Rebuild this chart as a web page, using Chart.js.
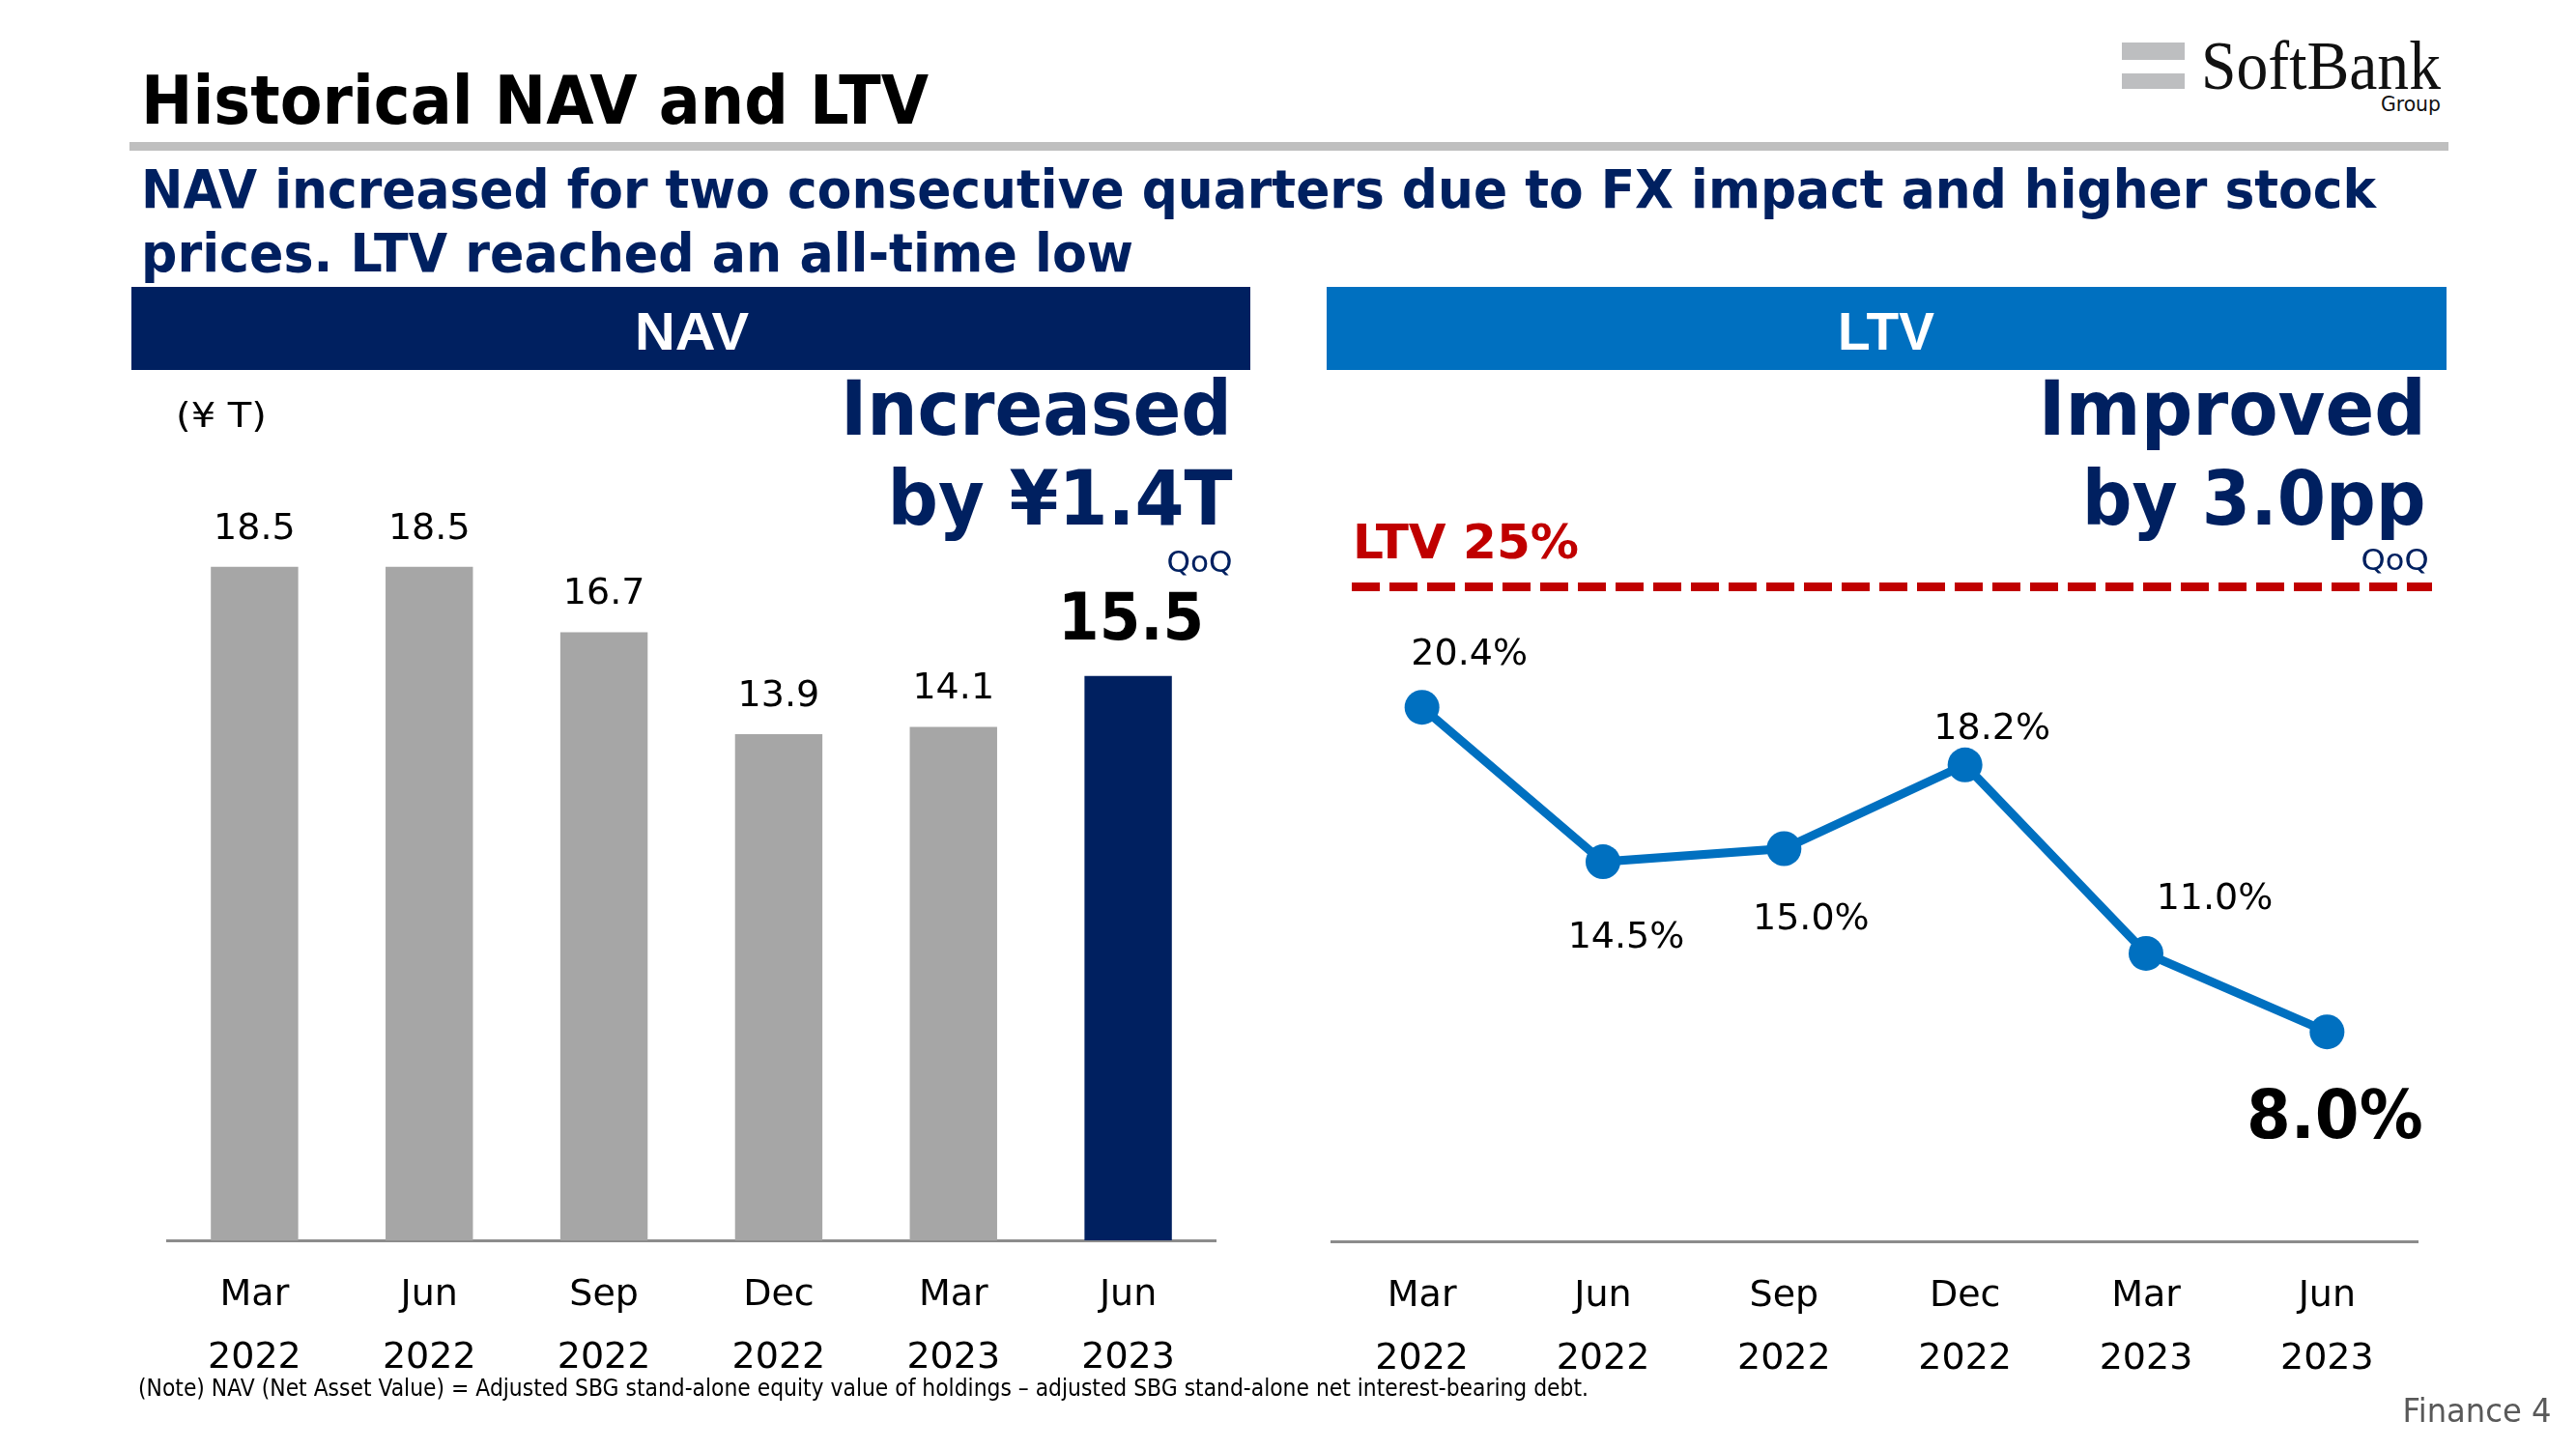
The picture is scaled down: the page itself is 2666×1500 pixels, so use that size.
<!DOCTYPE html>
<html>
<head>
<meta charset="utf-8">
<script src="https://cdn.jsdelivr.net/npm/chart.js@4.4.1/dist/chart.umd.min.js"></script>
<style>
  html, body { margin: 0; padding: 0; background: #fff; }
  body { width: 2666px; height: 1500px; position: relative; overflow: hidden; }
  .box { position: absolute; }
  .txt { position: absolute; white-space: nowrap; line-height: 1; left: 0; top: 0; z-index: 5; }
  canvas { position: absolute; }
</style>
</head>
<body>
<div class="box" style="left:2196px;top:44px;width:65px;height:18px;background:#BDBEC0"></div>
<div class="box" style="left:2196px;top:76px;width:65px;height:16px;background:#BDBEC0"></div>
<div class="box" style="left:134px;top:147px;width:2400px;height:9px;background:#BFBFBF"></div>
<div class="box" style="left:136px;top:297px;width:1158px;height:86px;background:#002060"></div>
<div class="box" style="left:1373px;top:297px;width:1159px;height:86px;background:#0070C0"></div>

<canvas id="nav" width="1158" height="1117" style="left:136px;top:383px;width:1158px;height:1117px"></canvas>
<canvas id="ltv" width="1159" height="1117" style="left:1373px;top:383px;width:1159px;height:1117px"></canvas>

<script>
// ---------------- DATA ----------------
const monthLabels = ['Mar', 'Jun', 'Sep', 'Dec', 'Mar', 'Jun'];
const yearLabels  = ['2022', '2022', '2022', '2022', '2023', '2023'];
const navValues   = [18.5, 18.5, 16.7, 13.9, 14.1, 15.5];   // ¥T
const ltvValues   = [20.4, 14.5, 15.0, 18.2, 11.0, 8.0];    // %
const ltvLimit    = 25;                                      // % (LTV 25% line)

// ---------------- STYLE ----------------
const FONT = '"DejaVu Sans", Verdana, sans-serif';
const NAVY = '#002060';
const BLUE = '#0070C0';
const RED  = '#C00000';
const GRAY_BAR = '#A6A6A6';
const AXIS = '#8C8C8C';
const lastIdx = navValues.length - 1;
const navColors = navValues.map((v, i) => i === lastIdx ? NAVY : GRAY_BAR);
// label placement for LTV values (offset of label centre from the point, px)
const ltvLabelOffsets = [[49, -58], [24, 75], [28, 70], [28, -41], [71, -60], [8, 84]];

const categories = monthLabels.map((m, i) => [m, yearLabels[i]]);

Chart.defaults.font.family = FONT;

function xAxis(height) {
  return {
    offset: true,
    grid: { display: false, drawTicks: false },
    border: { display: true, color: AXIS, width: 3 },
    ticks: { color: '#000', padding: 25, font: { family: FONT, size: 38, lineHeight: 1.71 }, maxRotation: 0, autoSkip: false },
    afterFit: (s) => { s.height = height; }
  };
}

const navLabelPlugin = {
  id: 'navLabels',
  afterDatasetsDraw(chart) {
    const ctx = chart.ctx;
    const meta = chart.getDatasetMeta(0);
    meta.data.forEach((bar, i) => {
      const v = chart.data.datasets[0].data[i];
      const hi = i === lastIdx;
      ctx.save();
      ctx.font = hi ? 'bold 68px ' + FONT : '38px ' + FONT;
      ctx.fillStyle = '#000';
      ctx.textAlign = 'center';
      ctx.textBaseline = 'alphabetic';
      ctx.translate(bar.x + (hi ? 3 : 0), bar.y - (hi ? 38 : 29));
      if (hi) ctx.scale(0.9, 1);
      ctx.fillText(v.toFixed(1), 0, 0);
      ctx.restore();
    });
  }
};

const ltvPlugin = {
  id: 'ltvExtras',
  beforeDatasetsDraw(chart) {
    const ctx = chart.ctx, a = chart.chartArea;
    const y = chart.scales.y.getPixelForValue(ltvLimit);
    ctx.save();
    ctx.strokeStyle = RED;
    ctx.lineWidth = 9;
    ctx.lineCap = 'butt';
    ctx.setLineDash([29, 10]);
    ctx.beginPath();
    ctx.moveTo(a.left + 21, y);
    ctx.lineTo(a.right + 15, y);
    ctx.stroke();
    ctx.restore();
  },
  afterDatasetsDraw(chart) {
    const ctx = chart.ctx;
    const meta = chart.getDatasetMeta(0);
    meta.data.forEach((pt, i) => {
      const v = chart.data.datasets[0].data[i];
      const hi = i === lastIdx;
      const size = hi ? 70 : 38;
      const off = ltvLabelOffsets[i];
      ctx.save();
      ctx.font = (hi ? 'bold ' : '') + size + 'px ' + FONT;
      ctx.fillStyle = '#000';
      ctx.textAlign = 'center';
      ctx.textBaseline = 'alphabetic';
      ctx.translate(pt.x + off[0], pt.y + off[1] + size * 0.729 / 2);
      if (hi) ctx.scale(0.94, 1);
      ctx.fillText(v.toFixed(1) + '%', 0, 0);
      ctx.restore();
    });
  }
};

new Chart(document.getElementById('nav'), {
  type: 'bar',
  data: {
    labels: categories,
    datasets: [{ data: navValues, backgroundColor: navColors, borderWidth: 0, barPercentage: 0.5, categoryPercentage: 1.0 }]
  },
  options: {
    responsive: false, animation: false, devicePixelRatio: 1,
    layout: { autoPadding: false, padding: { left: 37, right: 36, top: 34, bottom: 0 } },
    plugins: { legend: { display: false }, tooltip: { enabled: false } },
    scales: {
      x: xAxis(216),
      y: { display: false, min: 0, max: 23 }
    }
  },
  plugins: [navLabelPlugin]
});

new Chart(document.getElementById('ltv'), {
  type: 'line',
  data: {
    labels: categories,
    datasets: [{
      data: ltvValues, borderColor: BLUE, borderWidth: 9, tension: 0,
      pointRadius: 18, pointBackgroundColor: BLUE, pointBorderWidth: 0, pointHoverRadius: 18, fill: false
    }]
  },
  options: {
    responsive: false, animation: false, devicePixelRatio: 1,
    layout: { autoPadding: false, padding: { left: 5, right: 30, top: 89, bottom: 0 } },
    plugins: { legend: { display: false }, tooltip: { enabled: false } },
    scales: {
      x: xAxis(215),
      y: { display: false, min: 0, max: 30 }
    }
  },
  plugins: [ltvPlugin]
});

// ---------------- TEXT (HTML) ----------------
const TEXTS = [
  { t: 'Historical NAV and LTV', f: 'bold 70px ' + FONT, c: '#000', x: 146, y: 128, a: 'left', w: 815 },
  { t: 'NAV increased for two consecutive quarters due to FX impact and higher stock', f: 'bold 55px ' + FONT, c: NAVY, x: 146, y: 215, a: 'left', w: 2313 },
  { t: 'prices. LTV reached an all-time low', f: 'bold 55px ' + FONT, c: NAVY, x: 146, y: 281, a: 'left', w: 1027 },
  { t: 'SoftBank', f: '71px "Liberation Serif", serif', c: '#111', x: 2278, y: 92, a: 'left', w: 248 },
  { t: 'Group', f: '21px ' + FONT, c: '#111', x: 2526, y: 115, a: 'right', w: 62 },
  { t: 'NAV', f: 'bold 55px "Liberation Sans", Arial, sans-serif', c: '#fff', x: 716, y: 362, a: 'center', w: 118 },
  { t: 'LTV', f: 'bold 55px "Liberation Sans", Arial, sans-serif', c: '#fff', x: 1952, y: 362, a: 'center', w: 100 },
  { t: '(¥ T)', f: '36px ' + FONT, c: '#000', x: 182, y: 442, a: 'left', w: 94 },
  { t: 'Increased', f: 'bold 78px ' + FONT, c: NAVY, x: 1275, y: 450, a: 'right', w: 405 },
  { t: 'by ¥1.4T', f: 'bold 78px ' + FONT, c: NAVY, x: 1275, y: 543, a: 'right', w: 357 },
  { t: 'QoQ', f: '30px ' + FONT, c: NAVY, x: 1276, y: 592, a: 'right', w: 68 },
  { t: 'Improved', f: 'bold 78px ' + FONT, c: NAVY, x: 2511, y: 450, a: 'right', w: 401 },
  { t: 'by 3.0pp', f: 'bold 78px ' + FONT, c: NAVY, x: 2511, y: 543, a: 'right', w: 356 },
  { t: 'QoQ', f: '30px ' + FONT, c: NAVY, x: 2514, y: 590, a: 'right', w: 70 },
  { t: 'LTV 25%', f: 'bold 49px ' + FONT, c: RED, x: 1400, y: 578, a: 'left', w: 234 },
  { t: '(Note) NAV (Net Asset Value) = Adjusted SBG stand-alone equity value of holdings – adjusted SBG stand-alone net interest-bearing debt.', f: '24px ' + FONT, c: '#000', x: 143, y: 1445, a: 'left', w: 1501 },
  { t: 'Finance 4', f: '34px ' + FONT, c: '#595959', x: 2641, y: 1472, a: 'right', w: 154 }
];

TEXTS.forEach(d => {
  const el = document.createElement('div');
  el.className = 'txt';
  el.style.font = d.f;
  el.style.lineHeight = '1';
  el.style.color = d.c;
  el.appendChild(document.createTextNode(d.t));
  const m = document.createElement('span');
  m.style.display = 'inline-block';
  m.style.width = '0px';
  m.style.height = '0px';
  m.style.verticalAlign = 'baseline';
  el.appendChild(m);
  document.body.appendChild(el);
  const nat = el.getBoundingClientRect().width;
  const base = m.offsetTop;
  const sx = d.w ? d.w / nat : 1;
  let left = d.x;
  if (d.a === 'right') left = d.x - nat;
  if (d.a === 'center') left = d.x - nat / 2;
  el.style.left = left + 'px';
  el.style.top = (d.y - base) + 'px';
  el.style.transformOrigin = d.a === 'right' ? 'right center' : (d.a === 'center' ? 'center center' : 'left center');
  el.style.transform = 'scaleX(' + sx + ')';
});
</script>
</body>
</html>
